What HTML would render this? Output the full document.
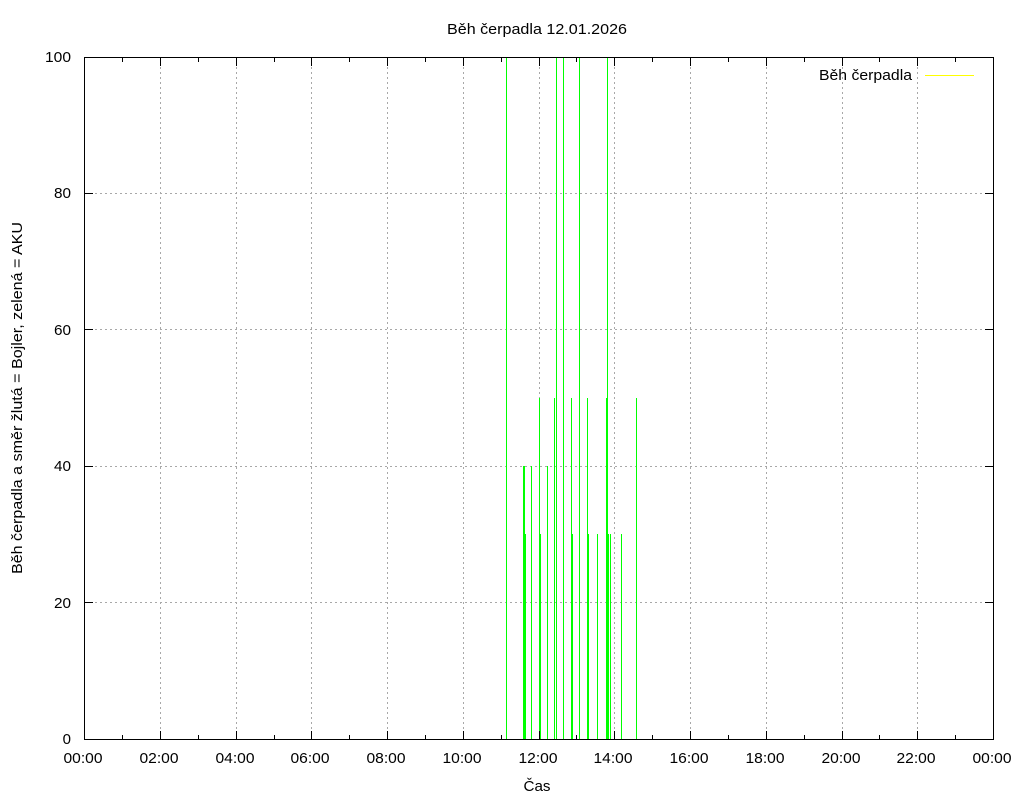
<!DOCTYPE html>
<html><head><meta charset="utf-8"><style>
html,body{margin:0;padding:0;background:#fff;}
svg{display:block;}
text{font-family:"Liberation Sans",Arial,sans-serif;font-size:15px;fill:#000;}
</style></head><body>
<svg width="1024" height="800" viewBox="0 0 1024 800" xmlns="http://www.w3.org/2000/svg">
<rect width="1024" height="800" fill="#fff"/>
<!-- grid -->
<g stroke="#a8a8a8" stroke-width="1" stroke-dasharray="2,3" shape-rendering="crispEdges">
<line x1="85" y1="602.5" x2="993" y2="602.5"/>
<line x1="85" y1="466.5" x2="993" y2="466.5"/>
<line x1="85" y1="329.5" x2="993" y2="329.5"/>
<line x1="85" y1="193.5" x2="993" y2="193.5"/>
<line x1="160.5" y1="57" x2="160.5" y2="739"/>
<line x1="236.5" y1="57" x2="236.5" y2="739"/>
<line x1="311.5" y1="57" x2="311.5" y2="739"/>
<line x1="387.5" y1="57" x2="387.5" y2="739"/>
<line x1="463.5" y1="57" x2="463.5" y2="739"/>
<line x1="539.5" y1="57" x2="539.5" y2="739"/>
<line x1="614.5" y1="57" x2="614.5" y2="739"/>
<line x1="690.5" y1="57" x2="690.5" y2="739"/>
<line x1="766.5" y1="57" x2="766.5" y2="739"/>
<line x1="842.5" y1="57" x2="842.5" y2="739"/>
<line x1="917.5" y1="57" x2="917.5" y2="739"/>
</g>
<!-- bars -->
<g stroke="#00ff00" stroke-width="1" shape-rendering="crispEdges">
<line x1="506.5" y1="739" x2="506.5" y2="57"/>
<line x1="523.5" y1="739" x2="523.5" y2="466"/>
<line x1="524.5" y1="739" x2="524.5" y2="466"/>
<line x1="525.5" y1="739" x2="525.5" y2="534"/>
<line x1="531.5" y1="739" x2="531.5" y2="466"/>
<line x1="539.5" y1="739" x2="539.5" y2="398"/>
<line x1="540.5" y1="739" x2="540.5" y2="534"/>
<line x1="547.5" y1="739" x2="547.5" y2="466"/>
<line x1="554.5" y1="739" x2="554.5" y2="398"/>
<line x1="556.5" y1="739" x2="556.5" y2="57"/>
<line x1="563.5" y1="739" x2="563.5" y2="57"/>
<line x1="571.5" y1="739" x2="571.5" y2="398"/>
<line x1="572.5" y1="739" x2="572.5" y2="534"/>
<line x1="579.5" y1="739" x2="579.5" y2="57"/>
<line x1="587.5" y1="739" x2="587.5" y2="398"/>
<line x1="588.5" y1="739" x2="588.5" y2="534"/>
<line x1="597.5" y1="739" x2="597.5" y2="534"/>
<line x1="606.5" y1="739" x2="606.5" y2="398"/>
<line x1="607.5" y1="739" x2="607.5" y2="57"/>
<line x1="608.5" y1="739" x2="608.5" y2="534"/>
<line x1="610.5" y1="739" x2="610.5" y2="534"/>
<line x1="621.5" y1="739" x2="621.5" y2="534"/>
<line x1="636.5" y1="739" x2="636.5" y2="398"/>
</g>
<!-- frame -->
<rect x="84.5" y="57.5" width="909" height="682" fill="none" stroke="#000" stroke-width="1" shape-rendering="crispEdges"/>
<!-- ticks -->
<g stroke="#000" stroke-width="1" shape-rendering="crispEdges">
<line x1="85" y1="602.5" x2="93" y2="602.5"/><line x1="985" y1="602.5" x2="993" y2="602.5"/>
<line x1="85" y1="466.5" x2="93" y2="466.5"/><line x1="985" y1="466.5" x2="993" y2="466.5"/>
<line x1="85" y1="329.5" x2="93" y2="329.5"/><line x1="985" y1="329.5" x2="993" y2="329.5"/>
<line x1="85" y1="193.5" x2="93" y2="193.5"/><line x1="985" y1="193.5" x2="993" y2="193.5"/>
<line x1="160.5" y1="739" x2="160.5" y2="731"/><line x1="160.5" y1="58" x2="160.5" y2="66"/>
<line x1="236.5" y1="739" x2="236.5" y2="731"/><line x1="236.5" y1="58" x2="236.5" y2="66"/>
<line x1="311.5" y1="739" x2="311.5" y2="731"/><line x1="311.5" y1="58" x2="311.5" y2="66"/>
<line x1="387.5" y1="739" x2="387.5" y2="731"/><line x1="387.5" y1="58" x2="387.5" y2="66"/>
<line x1="463.5" y1="739" x2="463.5" y2="731"/><line x1="463.5" y1="58" x2="463.5" y2="66"/>
<line x1="539.5" y1="739" x2="539.5" y2="731"/><line x1="539.5" y1="58" x2="539.5" y2="66"/>
<line x1="614.5" y1="739" x2="614.5" y2="731"/><line x1="614.5" y1="58" x2="614.5" y2="66"/>
<line x1="690.5" y1="739" x2="690.5" y2="731"/><line x1="690.5" y1="58" x2="690.5" y2="66"/>
<line x1="766.5" y1="739" x2="766.5" y2="731"/><line x1="766.5" y1="58" x2="766.5" y2="66"/>
<line x1="842.5" y1="739" x2="842.5" y2="731"/><line x1="842.5" y1="58" x2="842.5" y2="66"/>
<line x1="917.5" y1="739" x2="917.5" y2="731"/><line x1="917.5" y1="58" x2="917.5" y2="66"/>
<line x1="122.5" y1="739" x2="122.5" y2="735"/><line x1="122.5" y1="58" x2="122.5" y2="62"/>
<line x1="198.5" y1="739" x2="198.5" y2="735"/><line x1="198.5" y1="58" x2="198.5" y2="62"/>
<line x1="274.5" y1="739" x2="274.5" y2="735"/><line x1="274.5" y1="58" x2="274.5" y2="62"/>
<line x1="349.5" y1="739" x2="349.5" y2="735"/><line x1="349.5" y1="58" x2="349.5" y2="62"/>
<line x1="425.5" y1="739" x2="425.5" y2="735"/><line x1="425.5" y1="58" x2="425.5" y2="62"/>
<line x1="501.5" y1="739" x2="501.5" y2="735"/><line x1="501.5" y1="58" x2="501.5" y2="62"/>
<line x1="576.5" y1="739" x2="576.5" y2="735"/><line x1="576.5" y1="58" x2="576.5" y2="62"/>
<line x1="652.5" y1="739" x2="652.5" y2="735"/><line x1="652.5" y1="58" x2="652.5" y2="62"/>
<line x1="728.5" y1="739" x2="728.5" y2="735"/><line x1="728.5" y1="58" x2="728.5" y2="62"/>
<line x1="804.5" y1="739" x2="804.5" y2="735"/><line x1="804.5" y1="58" x2="804.5" y2="62"/>
<line x1="879.5" y1="739" x2="879.5" y2="735"/><line x1="879.5" y1="58" x2="879.5" y2="62"/>
<line x1="955.5" y1="739" x2="955.5" y2="735"/><line x1="955.5" y1="58" x2="955.5" y2="62"/>
</g>
<!-- title -->
<text x="537" y="34" text-anchor="middle" textLength="180" lengthAdjust="spacingAndGlyphs">Běh čerpadla 12.01.2026</text>
<!-- y tick labels -->
<g text-anchor="end">
<text x="71" y="744">0</text>
<text x="71" y="608" textLength="17" lengthAdjust="spacingAndGlyphs">20</text>
<text x="71" y="471" textLength="17" lengthAdjust="spacingAndGlyphs">40</text>
<text x="71" y="335" textLength="17" lengthAdjust="spacingAndGlyphs">60</text>
<text x="71" y="198" textLength="17" lengthAdjust="spacingAndGlyphs">80</text>
<text x="71" y="62" textLength="26" lengthAdjust="spacingAndGlyphs">100</text>
</g>
<!-- x tick labels -->
<g text-anchor="middle">
<text x="83" y="763" textLength="39" lengthAdjust="spacingAndGlyphs">00:00</text>
<text x="159" y="763" textLength="39" lengthAdjust="spacingAndGlyphs">02:00</text>
<text x="235" y="763" textLength="39" lengthAdjust="spacingAndGlyphs">04:00</text>
<text x="310" y="763" textLength="39" lengthAdjust="spacingAndGlyphs">06:00</text>
<text x="386" y="763" textLength="39" lengthAdjust="spacingAndGlyphs">08:00</text>
<text x="462" y="763" textLength="39" lengthAdjust="spacingAndGlyphs">10:00</text>
<text x="538" y="763" textLength="39" lengthAdjust="spacingAndGlyphs">12:00</text>
<text x="613" y="763" textLength="39" lengthAdjust="spacingAndGlyphs">14:00</text>
<text x="689" y="763" textLength="39" lengthAdjust="spacingAndGlyphs">16:00</text>
<text x="765" y="763" textLength="39" lengthAdjust="spacingAndGlyphs">18:00</text>
<text x="841" y="763" textLength="39" lengthAdjust="spacingAndGlyphs">20:00</text>
<text x="916" y="763" textLength="39" lengthAdjust="spacingAndGlyphs">22:00</text>
<text x="992" y="763" textLength="39" lengthAdjust="spacingAndGlyphs">00:00</text>
</g>
<!-- axis labels -->
<text x="537" y="791" text-anchor="middle" textLength="27" lengthAdjust="spacingAndGlyphs">Čas</text>
<text transform="translate(22,398) rotate(-90)" text-anchor="middle" textLength="352" lengthAdjust="spacingAndGlyphs">Běh čerpadla a směr žlutá = Bojler, zelená = AKU</text>
<!-- legend -->
<text x="912" y="80" text-anchor="end" textLength="93" lengthAdjust="spacingAndGlyphs">Běh čerpadla</text>
<line x1="925" y1="75.5" x2="974" y2="75.5" stroke="#ffff00" stroke-width="1" shape-rendering="crispEdges"/>
</svg>
</body></html>
